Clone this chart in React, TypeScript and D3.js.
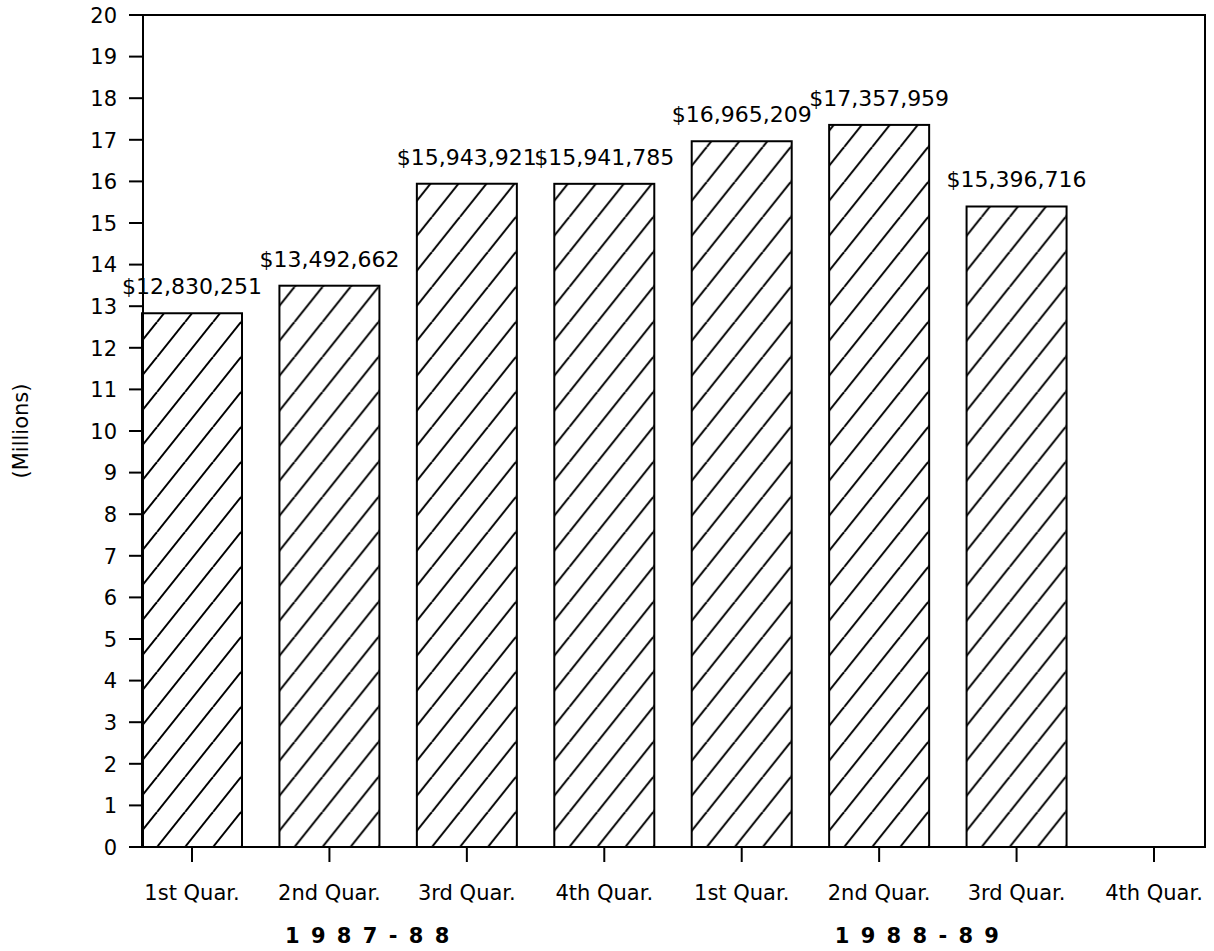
import React from "react";
import * as d3 from "d3";

const quarters = ["1st Quar.", "2nd Quar.", "3rd Quar.", "4th Quar.", "1st Quar.", "2nd Quar.", "3rd Quar.", "4th Quar."];
const amounts: (number | null)[] = [12830251, 13492662, 15943921, 15941785, 16965209, 17357959, 15396716, null];
const yTickValues = d3.range(0, 21);
const fiscalYears = ["1 9 8 7 - 8 8", "1 9 8 8 - 8 9"];
const yAxisTitle = "(Millions)";

const W = 1214;
const H = 951;
const left = 143;
const right = 1205;
const top = 15;
const bottom = 847;
const barW = 100;
const FONT = "'DejaVu Sans', sans-serif";

export default function App() {
  const x = d3.scalePoint<number>().domain(d3.range(quarters.length)).range([192, 1154]);
  const y = d3.scaleLinear().domain([0, 20]).range([bottom, top]);
  const fmt = d3.format("$,");

  return (
    <svg width={W} height={H} style={{ position: "absolute", left: 0, top: 0, background: "#fff" }}>
      <rect x={0} y={0} width={W} height={H} fill="#fff" />
      <defs>
        {amounts.map((v, i) => {
          const bx = (x(i) as number) - barW / 2;
          return (
            <pattern key={i} id={`hatch-${i}`} patternUnits="userSpaceOnUse" x={bx + 15} y={bottom} width={28} height={35}>
              {[-28, 0, 28].map((o) => (
                <line key={o} x1={o} y1={35} x2={o + 28} y2={0} stroke="#000" strokeWidth={2} />
              ))}
            </pattern>
          );
        })}
      </defs>

      {/* bars */}
      {amounts.map((v, i) => {
        if (v == null) return null;
        const cx = x(i) as number;
        const yt = y(v / 1e6);
        return (
          <g key={i}>
            <rect x={cx - barW / 2} y={yt} width={barW} height={bottom - yt} fill={`url(#hatch-${i})`} stroke="#000" strokeWidth={2} />
            <text x={cx} y={yt - 19} textAnchor="middle" fontFamily={FONT} fontSize={22} fill="#000">
              {fmt(v)}
            </text>
          </g>
        );
      })}

      {/* frame */}
      <rect x={left} y={top} width={right - left} height={bottom - top} fill="none" stroke="#000" strokeWidth={2} />

      {/* y ticks */}
      {yTickValues.map((t) => (
        <g key={t}>
          <line x1={129} x2={left} y1={y(t)} y2={y(t)} stroke="#000" strokeWidth={2} />
          <text x={117} y={y(t)} dy="0.37em" textAnchor="end" fontFamily={FONT} fontSize={21} fill="#000">
            {t}
          </text>
        </g>
      ))}

      {/* x ticks */}
      {quarters.map((q, i) => (
        <g key={i}>
          <line x1={x(i) as number} x2={x(i) as number} y1={bottom} y2={862} stroke="#000" strokeWidth={2} />
          <text x={x(i) as number} y={900} textAnchor="middle" fontFamily={FONT} fontSize={21} fill="#000">
            {q}
          </text>
        </g>
      ))}

      {/* fiscal year labels */}
      {fiscalYears.map((fy, g) => {
        const mid = ((x(g * 4) as number) + (x(g * 4 + 3) as number)) / 2 - 30;
        return (
          <text key={g} x={mid} y={943} textAnchor="middle" fontFamily={FONT} fontSize={21} fontWeight="bold" letterSpacing={2} fill="#000">
            {fy}
          </text>
        );
      })}

      {/* y axis title */}
      <text transform={`translate(28, ${(top + bottom) / 2}) rotate(-90)`} textAnchor="middle" fontFamily={FONT} fontSize={21} fill="#000">
        {yAxisTitle}
      </text>
    </svg>
  );
}
